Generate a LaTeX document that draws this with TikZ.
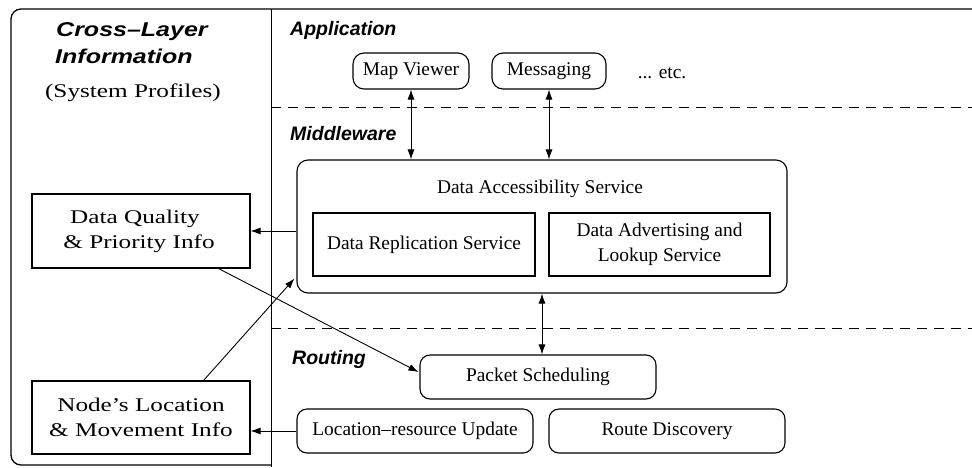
\documentclass[tikz,border=0pt]{standalone}
\usepackage{fontspec}
\setmainfont{Liberation Serif}
\setsansfont{Liberation Sans}
\newfontfamily\wideserif[FakeStretch=1.3]{Liberation Serif}
\newfontfamily\widesans[FakeStretch=1.25]{Liberation Sans}
\usetikzlibrary{arrows.meta,calc}

\begin{document}
\begin{tikzpicture}[x=1pt,y=-1pt,
  every node/.style={font=\fontsize{19.4}{25}\selectfont},
  box/.style={draw, line width=1.1pt, inner sep=0pt, align=center},
  rbox/.style={box, rounded corners=11pt},
  sidebox/.style={box, font=\fontsize{19.4}{25}\selectfont\wideserif},
  layer/.style={font=\fontsize{19.5}{24}\selectfont\sffamily\bfseries\itshape, anchor=base west, inner sep=0pt},
  sidehead/.style={font=\fontsize{20}{27}\selectfont\widesans\bfseries\itshape, anchor=base west, inner sep=0pt},
  sep/.style={line width=0.9pt, dash pattern=on 10pt off 7pt},
  arr/.style={line width=0.9pt, -{Latex[length=10pt,width=7pt]}},
  darr/.style={line width=0.9pt, {Latex[length=10pt,width=7pt]}-{Latex[length=10pt,width=7pt]}}
]
\useasboundingbox (0,0) rectangle (972,467);

% outer frame and column divider
\draw[line width=1.3pt, rounded corners=10pt] (972,9) -- (11,9) -- (11,465) -- (271,465);
\draw[line width=0.9pt] (271,9) -- (271,467);

% layer separators
\draw[sep] (271,107) -- (972,107);
\draw[sep] (271,328) -- (972,328);

% cross-layer column
\node[sidehead] (clh1) at (56,36) {Cross–Layer};
\node[sidehead] (clh2) at (55,63) {Information};
\node[font=\fontsize{19.4}{25}\selectfont\wideserif, anchor=base, inner sep=0pt] (prof) at (133,97) {(System Profiles)};
\node[sidebox, minimum width=218pt, minimum height=74pt] (dq) at (141,231) {\hspace*{-12pt}Data Quality\\\& Priority Info\hspace*{4pt}};
\node[sidebox, minimum width=218pt, minimum height=73pt] (nl) at (141,417.5) {Node’s Location\\\& Movement Info};

% layer titles
\node[layer] (app) at (290,35) {Application};
\node[layer] (mid) at (290,140) {Middleware};
\node[layer] (rout) at (292,364) {Routing};

% application layer
\node[rbox, minimum width=116pt, minimum height=36pt] (mv) at (411,71) {Map Viewer};
\node[rbox, minimum width=114pt, minimum height=36pt] (msg) at (549,71) {Messaging};
\node[inner sep=0pt] (etc) at (662,73) {... etc.};

% middleware layer
\node[rbox, minimum width=490pt, minimum height=133pt] (das) at (542,226.5) {};
\node[inner sep=0pt] (dast) at (540,189) {Data Accessibility Service};
\node[box, minimum width=222pt, minimum height=63pt] (drs) at (424,244.5) {Data Replication Service};
\node[box, minimum width=221pt, minimum height=63pt] (dals) at (659.5,244.5) {Data Advertising and\\Lookup Service};

% routing layer
\node[rbox, rounded corners=10pt, minimum width=236pt, minimum height=44pt] (ps) at (538,377) {Packet Scheduling};
\node[rbox, rounded corners=10pt, minimum width=236pt, minimum height=44pt] (lru) at (415,431) {Location–resource Update};
\node[rbox, rounded corners=10pt, minimum width=236pt, minimum height=44pt] (rd) at (667,431) {Route Discovery};

% connectors
\draw[darr] (mv.south) -- (mv.south |- das.north);
\draw[darr] (msg.south) -- (msg.south |- das.north);
\draw[darr] ($(ps.north)+(4,0)$) -- ($(ps.north |- das.south)+(4,0)$);
\draw[arr] (dq.east -| das.west) -- (dq.east);
\draw[arr] (lru.west) -- (lru.west -| nl.east);
\draw[arr] ($(dq.south east)+(-32,0)$) -- ($(ps.west)+(-1,-5)$);
\draw[arr] ($(nl.north east)+(-47,0)$) -- ($(das.south west)+(-2,-15)$);
\end{tikzpicture}
\end{document}
